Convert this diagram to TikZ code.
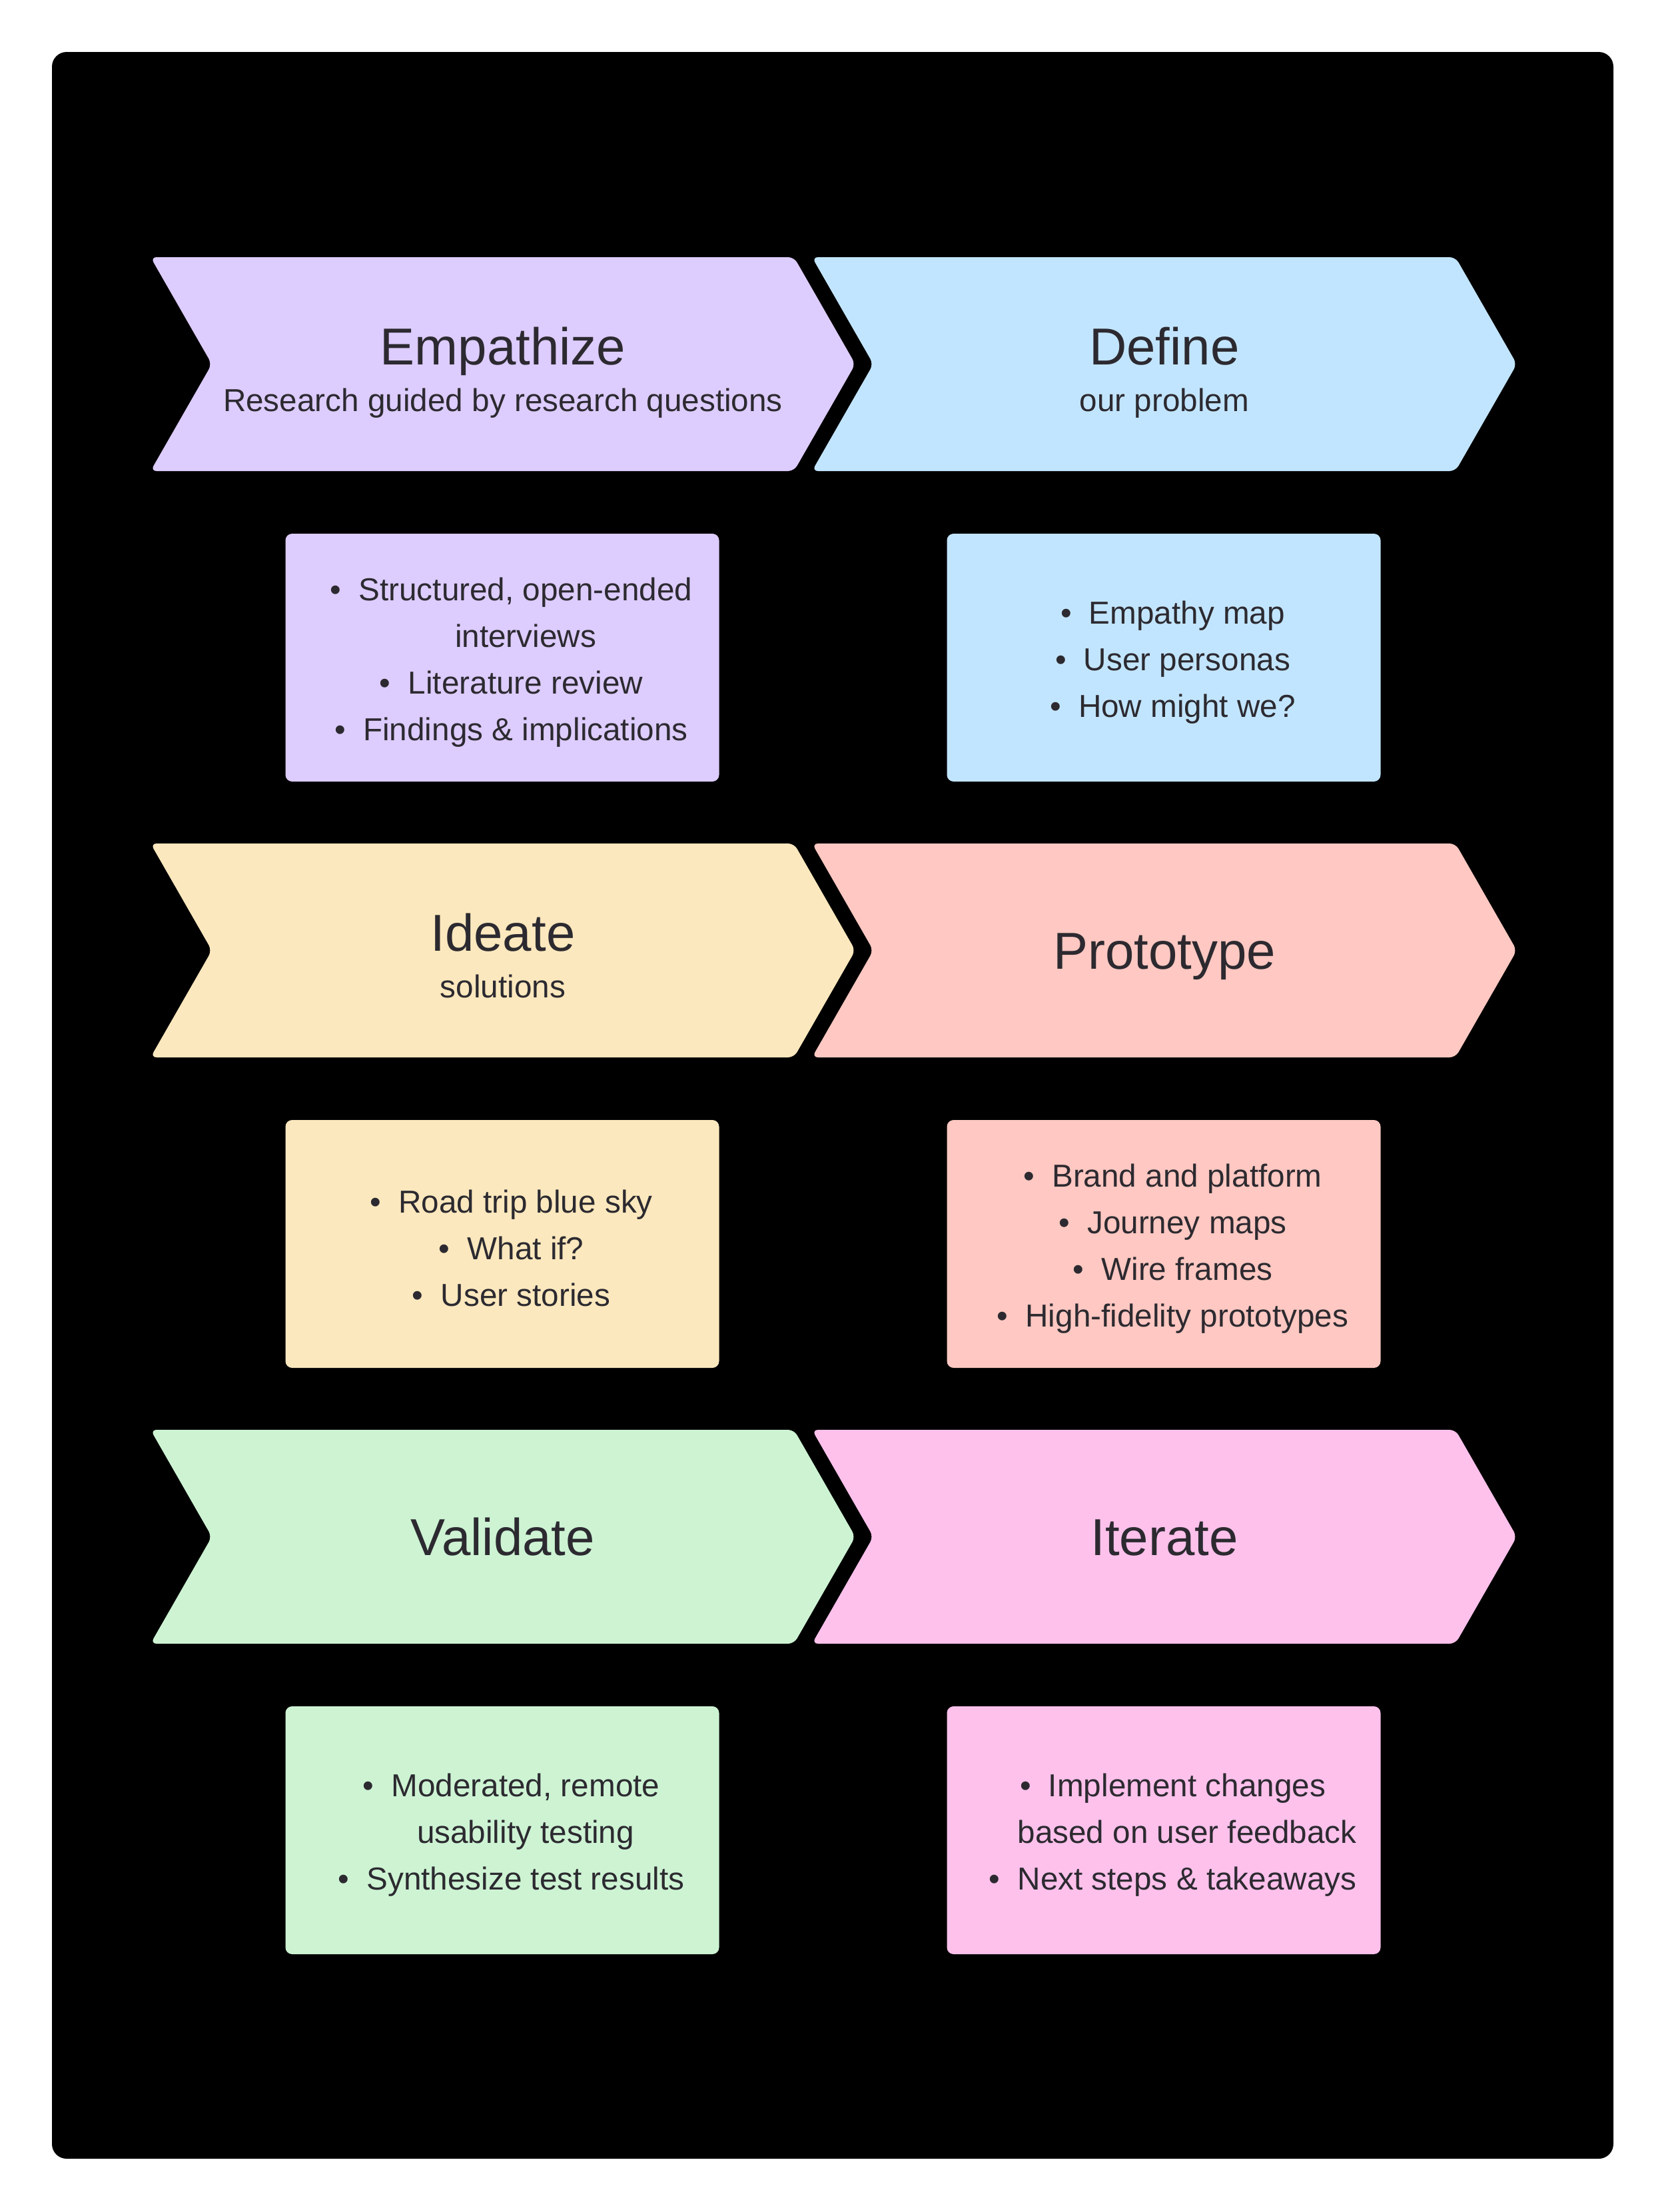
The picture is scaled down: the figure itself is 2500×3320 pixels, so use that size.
\documentclass[tikz,border=0pt]{standalone}
\usepackage{fontspec}
\setmainfont{Liberation Sans}
\definecolor{cviolet}{HTML}{DDCCFE}
\definecolor{cblue}{HTML}{C2E5FF}
\definecolor{cyellow}{HTML}{FCE8BE}
\definecolor{cred}{HTML}{FFC8C2}
\definecolor{cgreen}{HTML}{CDF3D3}
\definecolor{cpink}{HTML}{FDC1EC}
\definecolor{ink}{HTML}{2C2A30}
\newcommand\bul{\llap{\textbullet\hspace{0.55em}}}
\newcommand\chevshape[3]{\fill[#3,rounded corners=2.7pt] (#1+483,#2) -- (#1+966,#2) -- (#1+1058,#2+160.5) -- (#1+966,#2+321) -- (#1,#2+321) -- (#1+92,#2+160.5) -- (#1,#2) -- cycle;}
\tikzset{
 titletext/.style={text=ink,font=\fontsize{23.4pt}{28pt}\selectfont,anchor=base,inner sep=0pt},
 subtext/.style={text=ink,font=\fontsize{14.3pt}{17pt}\selectfont,anchor=base,inner sep=0pt},
 notebox/.style={rounded corners=3pt,minimum width=195.3pt,minimum height=111.6pt,inner sep=0pt},
 bodytext/.style={text=ink,font=\fontsize{14.3pt}{21pt}\selectfont,align=center,inner sep=0pt},
}
\begin{document}
\begin{tikzpicture}[x=0.3pt,y=-0.3pt]
\useasboundingbox (0,0) rectangle (2500,3320);
\fill[white] (0,0) rectangle (2500,3320);
\fill[black, rounded corners=6.6pt] (78,78) rectangle (2422,3240);

% chevrons
\chevshape{226}{386}{cviolet}
\chevshape{1219}{386}{cblue}
\chevshape{226}{1266}{cyellow}
\chevshape{1219}{1266}{cred}
\chevshape{226}{2146}{cgreen}
\chevshape{1219}{2146}{cpink}

% chevron texts
\node[titletext] (empT) at (755,547) {Empathize};
\node[subtext] (empS) at (755,617) {Research guided by research questions};
\node[titletext] (defT) at (1748,547) {Define};
\node[subtext] (defS) at (1748,617) {our problem};
\node[titletext] (ideT) at (755,1427) {Ideate};
\node[subtext] (ideS) at (755,1497) {solutions};
\node[titletext] (proT) at (1748,1454) {Prototype};
\node[titletext] (valT) at (755,2334) {Validate};
\node[titletext] (itT) at (1748,2334) {Iterate};

% boxes
\node[notebox,fill=cviolet] (b1) at (754,987) {};
\node[notebox,fill=cblue] (b2) at (1747,987) {};
\node[notebox,fill=cyellow] (b3) at (754,1867) {};
\node[notebox,fill=cred] (b4) at (1747,1867) {};
\node[notebox,fill=cgreen] (b5) at (754,2747) {};
\node[notebox,fill=cpink] (b6) at (1747,2747) {};

\node[bodytext] (t1) at ([xshift=10.5pt,yshift=-2pt]b1.center) {\bul Structured, open-ended\\ interviews\\ \bul Literature review\\ \bul Findings \& implications};
\node[bodytext] (t2) at ([xshift=10.5pt,yshift=-2pt]b2.center) {\bul Empathy map\\ \bul User personas\\ \bul How might we?};
\node[bodytext] (t3) at ([xshift=10.5pt,yshift=-2pt]b3.center) {\bul Road trip blue sky\\ \bul What if?\\ \bul User stories};
\node[bodytext] (t4) at ([xshift=10.5pt,yshift=-2pt]b4.center) {\bul Brand and platform\\ \bul Journey maps\\ \bul Wire frames\\ \bul High-fidelity prototypes};
\node[bodytext] (t5) at ([xshift=10.5pt,yshift=-2pt]b5.center) {\bul Moderated, remote\\ usability testing\\ \bul Synthesize test results};
\node[bodytext] (t6) at ([xshift=10.5pt,yshift=-2pt]b6.center) {\bul Implement changes\\ based on user feedback\\ \bul Next steps \& takeaways};
\end{tikzpicture}
\end{document}
